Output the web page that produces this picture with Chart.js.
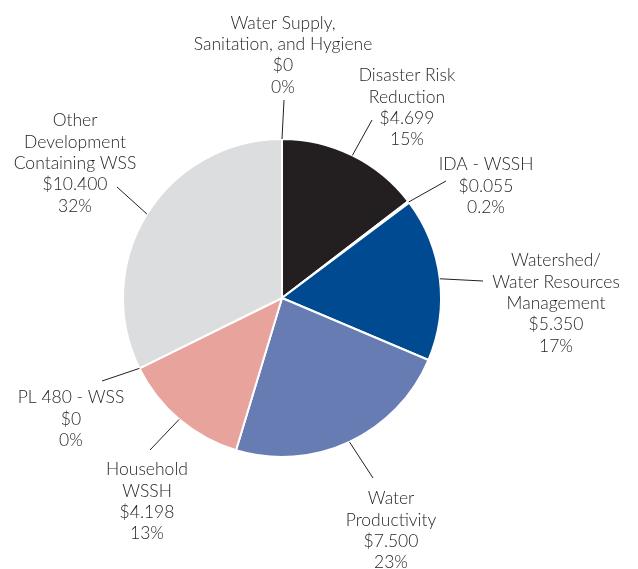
<!DOCTYPE html>
<html>
<head>
<meta charset="utf-8">
<script src="https://cdn.jsdelivr.net/npm/chart.js@4"></script>
<style>
  html, body { margin: 0; padding: 0; background: #fff; }
  #wrap { position: relative; width: 638px; height: 569px; }
</style>
</head>
<body>
<div id="wrap"><canvas id="pie"></canvas></div>
<script>
// Данные (в млн $)
const categories = [
    'Water Supply,\nSanitation, and Hygiene',
    'Disaster Risk\nReduction',
    'IDA - WSSH',
    'Watershed/\nWater Resources\nManagement',
    'Water\nProductivity',
    'Household\nWSSH',
    'PL 480 - WSS',
    'Other\nDevelopment\nContaining WSS'
];
const amounts = [0, 4.699, 0.055, 5.350, 7.500, 4.198, 0, 10.400];
const amountLabels = ['$0', '$4.699', '$0.055', '$5.350', '$7.500', '$4.198', '$0', '$10.400'];
const percentLabels = ['0%', '15%', '0.2%', '17%', '23%', '13%', '0%', '32%'];
const sliceColors = ['#231f20', '#231f20', '#231f20', '#004a91', '#667cb3', '#e9a39d', '#dcdddf', '#dcdddf'];

// Где стоят подписи: центр первой строки (по высоте заглавных) и внешний конец выноски
const labelLayout = [
    { x: 283, y: 22.5, lx: 284, ly: 100 },
    { x: 407, y: 75, lx: 372, ly: 120 },
    { x: 486, y: 164, lx: 446, ly: 181 },
    { x: 556, y: 260, lx: 483, ly: 281 },
    { x: 391, y: 498, lx: 373, ly: 478 },
    { x: 147, y: 469, lx: 150, ly: 450 },
    { x: 71, y: 397, lx: 102, ly: 381 },
    { x: 75, y: 120, lx: 117, ly: 187 }
];

const FONT_SIZE = 17.5;
const FONT = `300 ${FONT_SIZE}px "Lato", "Open Sans", sans-serif`;
const LINE_H = 21.3;
const TEXT_COLOR = '#231f20';

// Плагин для подписей с выносками
const calloutPlugin = {
    id: 'callouts',
    afterDatasetsDraw(chart) {
        const ctx = chart.ctx;
        const meta = chart.getDatasetMeta(0);
        ctx.save();
        meta.data.forEach((arc, i) => {
            const p = arc.getProps(['x', 'y', 'startAngle', 'endAngle', 'outerRadius'], true);
            const mid = (p.startAngle + p.endAngle) / 2;
            const ax = p.x + Math.cos(mid) * p.outerRadius;
            const ay = p.y + Math.sin(mid) * p.outerRadius;
            const lay = labelLayout[i];

            ctx.strokeStyle = '#231f20';
            ctx.lineWidth = 1;
            ctx.beginPath();
            ctx.moveTo(lay.lx, lay.ly);
            ctx.lineTo(ax, ay);
            ctx.stroke();

            const lines = categories[i].split('\n').concat([amountLabels[i], percentLabels[i]]);
            ctx.font = FONT;
            ctx.fillStyle = TEXT_COLOR;
            ctx.textAlign = 'center';
            ctx.textBaseline = 'alphabetic';
            // сдвиг от центра заглавных до базовой линии
            const capHalf = FONT_SIZE * 0.36;
            lines.forEach((t, k) => ctx.fillText(t, lay.x, lay.y + k * LINE_H + capHalf));
        });
        ctx.restore();
    }
};

const ctx = document.getElementById('pie').getContext('2d');
new Chart(ctx, {
    type: 'pie',
    data: {
        labels: categories,
        datasets: [{
            data: amounts,
            backgroundColor: sliceColors,
            borderColor: '#ffffff',
            borderWidth: 2
        }]
    },
    options: {
        responsive: true,
        maintainAspectRatio: false,
        animation: false,
        layout: { padding: { left: 122, right: 196, top: 138, bottom: 111 } },
        plugins: {
            legend: { display: false },
            tooltip: { enabled: false }
        }
    },
    plugins: [calloutPlugin]
});
</script>
</body>
</html>
